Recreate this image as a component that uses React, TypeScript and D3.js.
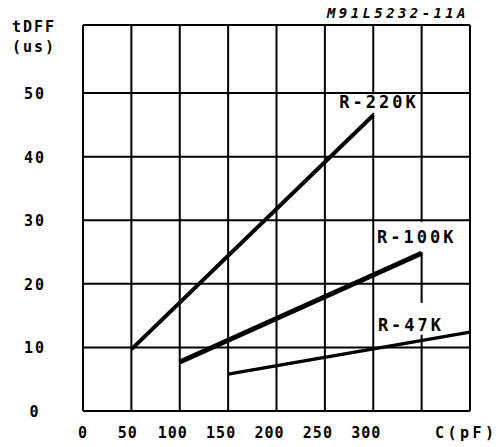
import React, { useEffect, useRef } from "react";
import * as d3 from "d3";

// C (pF) on x, tDFF (us) on y
const xTicks = [0, 50, 100, 150, 200, 250, 300];
const xGrid = [0, 50, 100, 150, 200, 250, 300, 350, 400];
const yTicks = [0, 10, 20, 30, 40, 50];

const series = [
  { name: "R-220K", points: [[50, 9.7], [300, 46.5]], width: 4 },
  { name: "R-100K", points: [[100, 7.7], [350, 24.8]], width: 5 },
  { name: "R-47K", points: [[150, 5.8], [400, 12.4]], width: 3.5 },
];

// label anchor (centre x, baseline y) and the white box behind it, in data units
const labelPos = [[306, 47.6], [345, 26.4], [339, 12.6]];
const labelBox = [
  [261.5, 346, 49.8, 46.9],
  [302.8, 387.6, 29.75, 25.0],
  [302, 374, 17.0, 12.0],
];

const FONT = "'DejaVu Sans Mono', monospace";

export default function App() {
  const svgRef = useRef<SVGSVGElement | null>(null);

  useEffect(() => {
    if (!svgRef.current) return;
    const svg = d3.select(svgRef.current);
    svg.selectAll("*").remove();

    const x = d3.scaleLinear().domain([0, 400]).range([83, 470]);
    const y = d3.scaleLinear().domain([0, 60.7]).range([411, 25]);

    const g = svg.append("g");

    // grid
    g.selectAll(".vx")
      .data(xGrid)
      .enter()
      .append("line")
      .attr("x1", (d) => x(d))
      .attr("x2", (d) => x(d))
      .attr("y1", y(0))
      .attr("y2", y(60.7))
      .attr("stroke", "#000")
      .attr("stroke-width", 2);

    // white boxes behind the labels knock out the vertical grid
    labelBox.forEach((b) => {
      g.append("rect")
        .attr("x", x(b[0]))
        .attr("y", y(b[2]))
        .attr("width", x(b[1]) - x(b[0]))
        .attr("height", y(b[3]) - y(b[2]))
        .attr("fill", "#fff");
    });

    g.selectAll(".hy")
      .data([...yTicks, 60.7])
      .enter()
      .append("line")
      .attr("x1", x(0))
      .attr("x2", x(400))
      .attr("y1", (d) => y(d))
      .attr("y2", (d) => y(d))
      .attr("stroke", "#000")
      .attr("stroke-width", 2);

    // tick labels
    g.selectAll(".xl")
      .data(xTicks)
      .enter()
      .append("text")
      .attr("x", (d) => x(d) - (String(d).length - 1) * 3.5)
      .attr("y", 438)
      .attr("text-anchor", "middle")
      .attr("font-family", FONT)
      .attr("font-weight", "bold")
      .attr("font-size", 15)
      .attr("letter-spacing", 1)
      .text((d) => d);

    g.selectAll(".yl")
      .data(yTicks)
      .enter()
      .append("text")
      .attr("x", 35)
      .attr("y", (d) => y(d) + 6)
      .attr("text-anchor", "middle")
      .attr("font-family", FONT)
      .attr("font-weight", "bold")
      .attr("font-size", 15)
      .attr("letter-spacing", 2)
      .text((d) => d);

    // axis titles
    const txt = (tx: number, ty: number, s: string, size: number, ls: number, anchor = "start") =>
      g.append("text")
        .attr("x", tx)
        .attr("y", ty)
        .attr("text-anchor", anchor)
        .attr("font-family", FONT)
        .attr("font-weight", "bold")
        .attr("font-size", size)
        .attr("letter-spacing", ls)
        .text(s);

    txt(12, 32, "tDFF", 15, 2);
    txt(12, 52, "(us)", 15, 2);
    txt(435, 438, "C(pF)", 15, 3.5);
    txt(327, 18, "M91L5232-11A", 14, 3.4).attr("font-style", "italic");

    // series
    const line = d3
      .line<number[]>()
      .x((d) => x(d[0]))
      .y((d) => y(d[1]));

    series.forEach((s, i) => {
      g.append("path")
        .attr("d", line(s.points))
        .attr("fill", "none")
        .attr("stroke", "#000")
        .attr("stroke-width", s.width);

      g.append("text")
        .attr("x", x(labelPos[i][0]))
        .attr("y", y(labelPos[i][1]))
        .attr("text-anchor", "middle")
        .attr("font-family", FONT)
        .attr("font-weight", "bold")
        .attr("font-size", 17)
        .attr("letter-spacing", 3)
        .text(s.name);
    });
  }, []);

  return (
    <svg
      ref={svgRef}
      width={503}
      height={447}
      style={{ position: "absolute", left: 0, top: 0, background: "#fff" }}
    />
  );
}
